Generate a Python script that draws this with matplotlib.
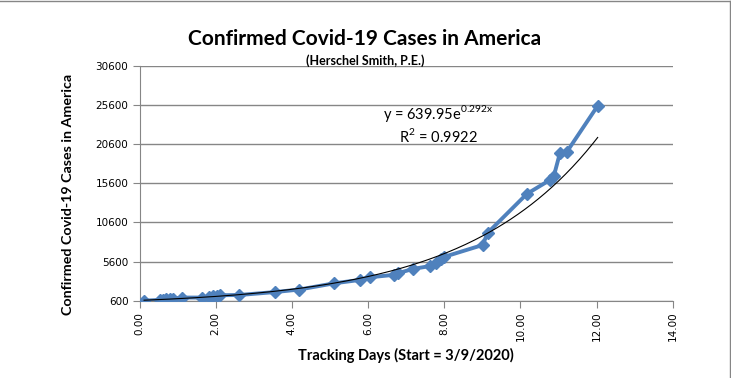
import numpy as np
import matplotlib.pyplot as plt
from matplotlib.lines import Line2D

plt.rcParams['mathtext.fontset'] = 'custom'
plt.rcParams['mathtext.rm'] = 'Lato'

# tracking days since 3/9/2020 and confirmed cases
days = [0.12, 0.54, 0.62, 0.70, 0.80, 0.88, 1.11, 1.64, 1.83, 1.93, 2.04,
        2.12, 2.62, 3.57, 4.20, 5.12, 5.78, 6.04, 6.67, 6.78, 7.17, 7.64,
        7.78, 7.91, 7.99, 9.01, 9.14, 10.17, 10.78, 10.88, 11.04, 11.22, 12.03]
cases = [605, 700, 730, 760, 800, 850, 1000, 1000, 1100, 1200, 1250,
         1300, 1330, 1710, 2030, 2830, 3250, 3590, 3900, 4100, 4650, 5040,
         5420, 5930, 6190, 7720, 9260, 14250, 16040, 16550, 19490, 19620, 25510]

# exponential trendline shown on the chart
trend_a = 639.95
trend_b = 0.292

yticks = [600, 5600, 10600, 15600, 20600, 25600, 30600]
xticks = [0, 2, 4, 6, 8, 10, 12, 14]

grey = '#868686'
blue = '#4F81BD'

fig = plt.figure(figsize=(7.31, 3.78), dpi=100)
ax = fig.add_axes([139.5/731, 1 - 300.7/378, 533.2/731, 234.7/378])

ax.plot(days, cases, color=blue, lw=2.8, marker='D', ms=6,
        mfc=blue, mec=blue, zorder=3)

tx = np.linspace(days[0], days[-1], 200)
ax.plot(tx, trend_a * np.exp(trend_b * tx), color='black', lw=0.8, zorder=4)

ax.set_xlim(0, 14)
ax.set_ylim(600, 30600)
ax.set_xticks(xticks)
ax.set_xticklabels(['%.2f' % v for v in xticks], rotation=90, fontsize=7.5)
ax.set_yticks(yticks)
ax.set_yticklabels([str(v) for v in yticks], fontsize=7.5)
ax.yaxis.grid(True, color=grey, lw=1)
ax.set_axisbelow(True)
for s in ['top', 'right']:
    ax.spines[s].set_visible(False)
for s in ['left', 'bottom']:
    ax.spines[s].set_color(grey)
ax.tick_params(direction='out', length=5, color=grey, pad=3)

ax.set_xlabel('Tracking Days (Start = 3/9/2020)', family='Lato',
              fontweight='bold', fontsize=10.5, labelpad=5)
ax.set_ylabel('Confirmed Covid-19 Cases in America', family='Lato',
              fontweight='bold', fontsize=10.3)
ax.yaxis.set_label_coords((74 - 139.5)/533.2, (300.7 - 194.5)/234.7)

fig.text(365/731, 1 - 39/378, 'Confirmed Covid-19 Cases in America',
         family='Lato', fontweight='bold', fontsize=15, ha='center', va='center')
fig.text(365/731, 1 - 61/378, '(Herschel Smith, P.E.)',
         family='Lato', fontweight='bold', fontsize=9, ha='center', va='center')

fig.text(438/731, 1 - 114/378, r'y = 639.95e$^{\mathrm{0.292x}}$', family='Lato',
         fontsize=10.5, ha='center', va='center')
fig.text(438/731, 1 - 136/378, r'R$^{\mathrm{2}}$ = 0.9922', family='Lato',
         fontsize=10.5, ha='center', va='center')

# outer chart border (top and right edges)
fig.add_artist(Line2D([0, 0.9985], [0.997, 0.997], color=grey, lw=1))
fig.add_artist(Line2D([0.9985, 0.9985], [0, 0.997], color=grey, lw=1))

fig.savefig('out.png', dpi=100)
